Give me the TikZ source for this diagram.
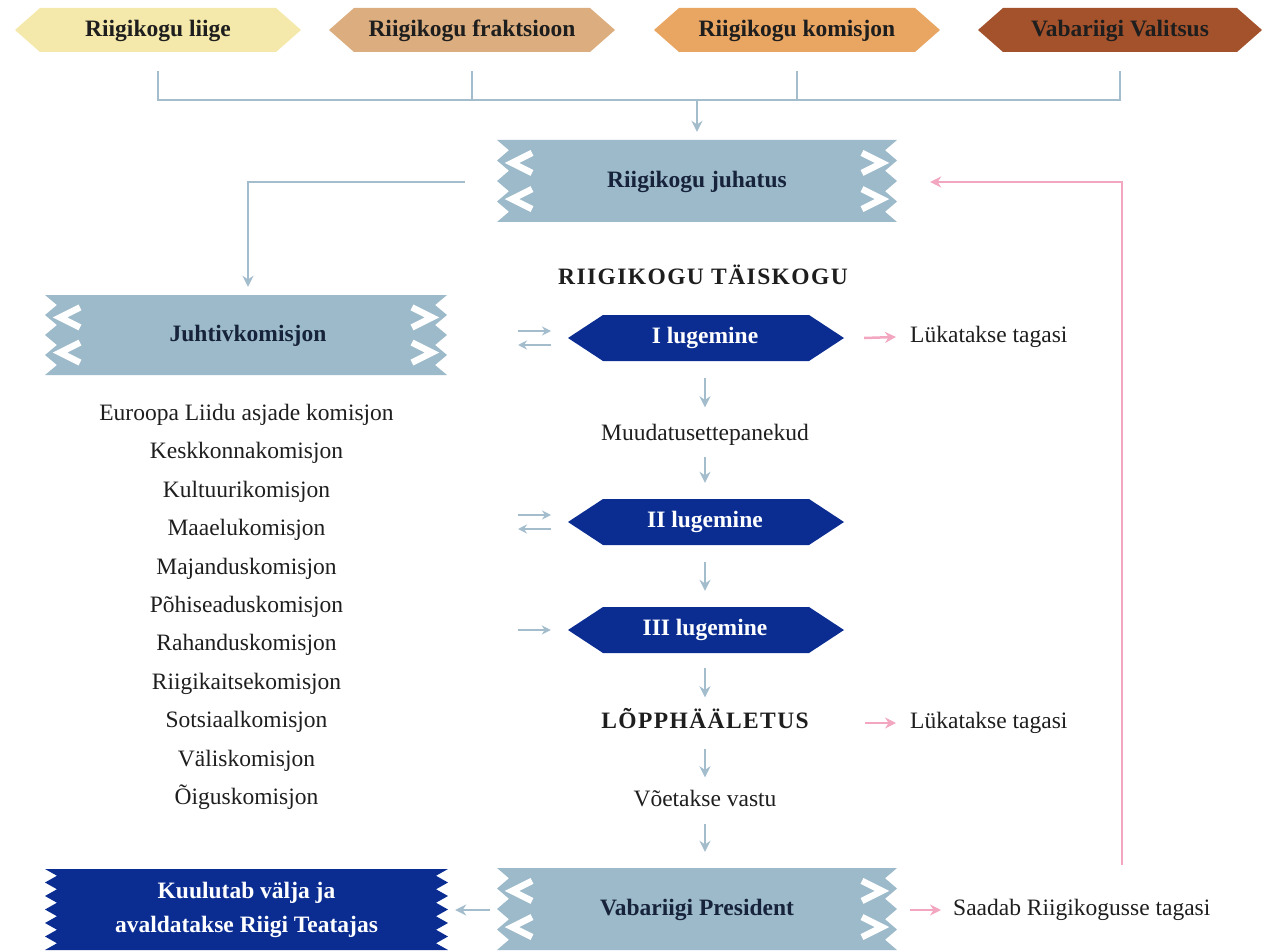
\documentclass[tikz,border=0pt]{standalone}
\usepackage{fontspec}
\setmainfont{Liberation Serif}
\usetikzlibrary{arrows.meta,calc}
\definecolor{cYel}{HTML}{F4E8AA}
\definecolor{cTan}{HTML}{DCAD7E}
\definecolor{cOra}{HTML}{E9A562}
\definecolor{cBrn}{HTML}{A4522B}
\definecolor{cBox}{HTML}{9DBACA}
\definecolor{cNavy}{HTML}{0B2D92}
\definecolor{cArr}{HTML}{A3BDCC}
\definecolor{cPink}{HTML}{F2A6BF}
\definecolor{cTxt}{HTML}{1E1E1E}
\definecolor{cBoxTxt}{HTML}{16233A}
\newcommand{\myfs}{\fontsize{23.5}{28}\selectfont}
% sawtooth ribbon: x0 y0 x1 y1 teeth depth fill
\newcommand{\Saw}[7]{%
  \fill[#7] (#1,#2) -- (#3,#2)
    \foreach \i in {1,...,#5} { -- ({#3-#6},{#2+(\i-0.5)*(#4-#2)/#5}) -- (#3,{#2+\i*(#4-#2)/#5}) }
    -- (#1,#4)
    \foreach \i in {#5,...,1} { -- ({#1+#6},{#2+(\i-0.5)*(#4-#2)/#5}) -- (#1,{#2+(\i-1)*(#4-#2)/#5}) }
    -- cycle;
}
% white chevrons on both ends: x0 y0 x1 y1
\newcommand{\Chevs}[4]{%
  \foreach \f in {0.28,0.72}{
    \draw[white, line width=6.5pt] ({#1+35},{#2+\f*(#4-#2)-10}) -- ({#1+15},{#2+\f*(#4-#2)}) -- ({#1+35},{#2+\f*(#4-#2)+10});
    \draw[white, line width=6.5pt] ({#3-35},{#2+\f*(#4-#2)-10}) -- ({#3-15},{#2+\f*(#4-#2)}) -- ({#3-35},{#2+\f*(#4-#2)+10});
  }
}
% hexagon: cx cy halfw halfh tip fill
\newcommand{\Hex}[6]{%
  \fill[#6] ({#1-#3},#2) -- ({#1-#3+#5},{#2-#4}) -- ({#1+#3-#5},{#2-#4}) -- ({#1+#3},#2) -- ({#1+#3-#5},{#2+#4}) -- ({#1-#3+#5},{#2+#4}) -- cycle;
}
\begin{document}
\begin{tikzpicture}[x=1pt,y=-1pt,
  txt/.style={font=\myfs, inner sep=0pt, text height=16pt, text depth=5pt, text=cTxt},
  btxt/.style={txt, font=\myfs\bfseries},
  sptxt/.style={btxt, font=\myfs\bfseries\addfontfeature{LetterSpace=6}},
  rd/.style={btxt, text=white, minimum height=46pt, minimum width=276pt},
  conn/.style={draw=cArr, line width=2.5pt},
  arr/.style={conn, -{Stealth[length=11pt,width=11pt]}},
  sarr/.style={draw=cArr, line width=2.3pt, -{Stealth[length=9pt,width=9pt]}},
  parr/.style={draw=cPink, line width=2.5pt, -{Stealth[length=11pt,width=11pt]}},
]
\useasboundingbox (0,0) rectangle (1269,952);

% ---- top hexagons
\Hex{158}{30}{143}{22}{25}{cYel}
\Hex{472}{30}{143}{22}{25}{cTan}
\Hex{797}{30}{143}{22}{25}{cOra}
\Hex{1120}{30}{142}{22}{25}{cBrn}
\node[btxt, minimum height=44pt] (h1) at (158,31) {Riigikogu liige};
\node[btxt, minimum height=44pt] (h2) at (472,31) {Riigikogu fraktsioon};
\node[btxt, minimum height=44pt] (h3) at (797,31) {Riigikogu komisjon};
\node[btxt, minimum height=44pt] (h4) at (1120,31) {Vabariigi Valitsus};

% ---- ribbons
\Saw{497}{140}{897}{222}{4}{12}{cBox}
\Chevs{497}{140}{897}{222}
\node[btxt, text=cBoxTxt, minimum width=400pt, minimum height=82pt] (juh) at (697,182) {Riigikogu juhatus};

\Saw{45}{295}{447}{375}{4}{12}{cBox}
\Chevs{45}{295}{447}{375}
\node[btxt, text=cBoxTxt, minimum width=402pt, minimum height=80pt] (jk) at (248,336) {Juhtivkomisjon};

\Saw{497}{868}{897}{950}{4}{12}{cBox}
\Chevs{497}{868}{897}{950}
\node[btxt, text=cBoxTxt, minimum width=400pt, minimum height=82pt] (pres) at (697,910) {Vabariigi President};

\Saw{45}{869}{448}{950}{6}{12}{cNavy}
\node[font=\fontsize{23.5}{34}\selectfont\bfseries, text=white, align=center, inner sep=0pt, minimum width=403pt, minimum height=81pt] (kuul) at (246.5,910) {Kuulutab välja ja\\avaldatakse Riigi Teatajas};

% ---- central column
\node[sptxt] (title) at (703,279) {RIIGIKOGU TÄISKOGU};
\Hex{706}{338}{138}{23}{35}{cNavy}
\node[rd] (l1) at (705,338) {I lugemine};
\node[txt] (mu) at (705,435) {Muudatusettepanekud};
\Hex{706}{522}{138}{23}{35}{cNavy}
\node[rd] (l2) at (705,522) {II lugemine};
\Hex{706}{630}{138}{23}{35}{cNavy}
\node[rd] (l3) at (705,630) {III lugemine};
\node[sptxt] (lop) at (705,723) {LÕPPHÄÄLETUS};
\node[txt] (vv) at (705,801) {Võetakse vastu};

\node[txt, anchor=west] (lt1) at (910,337) {Lükatakse tagasi};
\node[txt, anchor=west] (lt2) at (910,723) {Lükatakse tagasi};
\node[txt, anchor=west] (sr) at (953,910) {Saadab Riigikogusse tagasi};

% committee list
\foreach \t [count=\i] in {Euroopa Liidu asjade komisjon,Keskkonnakomisjon,Kultuurikomisjon,Maaelukomisjon,Majanduskomisjon,Põhiseaduskomisjon,Rahanduskomisjon,Riigikaitsekomisjon,Sotsiaalkomisjon,Väliskomisjon,Õiguskomisjon}
  \node[txt] (c\i) at (246.5,{415+(\i-1)*38.4}) {\t};

% ---- connectors top
\coordinate (m) at (697,100);
\draw[conn] ([yshift=-18pt]h1.south) |- (m);
\draw[conn] ([yshift=-18pt]h4.south) |- (m);
\draw[conn] ([yshift=-18pt]h2.south) -- (h2.south |- m);
\draw[conn] ([yshift=-18pt]h3.south) -- (h3.south |- m);
\draw[arr] (m) -- ([yshift=9pt]juh.north);
\draw[arr] ([xshift=-32pt]juh.west) -| ([yshift=9pt]jk.north);

% central down arrows
\draw[arr, shorten <=17pt, shorten >=17pt] (l1) -- (mu);
\draw[arr, shorten <=11pt, shorten >=16pt] (mu) -- (l2);
\draw[arr, shorten <=17pt, shorten >=16pt] (l2) -- (l3);
\draw[arr, shorten <=15pt, shorten >=15pt] (l3) -- (lop);
\draw[arr, shorten <=15pt, shorten >=13pt] (lop) -- (vv);
\draw[arr, shorten <=12pt, shorten >=17pt] (vv) -- (vv |- pres.north);

% side arrows by readings
\coordinate (a1l) at (518,331); \coordinate (a1r) at (551,331);
\coordinate (b1l) at (518,345); \coordinate (b1r) at (551,345);
\draw[sarr] (a1l) -- (a1r);
\draw[sarr] (b1r) -- (b1l);
\coordinate (a2l) at (518,515); \coordinate (a2r) at (551,515);
\coordinate (b2l) at (518,529); \coordinate (b2r) at (551,529);
\draw[sarr] (a2l) -- (a2r);
\draw[sarr] (b2r) -- (b2l);
\coordinate (a3l) at (518,630);
\draw[sarr, shorten >=16pt] (a3l) -- (l3.west);

% pink arrows
\draw[parr] ([xshift=21pt]l1.east) -- ([xshift=-14pt]lt1.west);
\draw[parr] ([xshift=-45pt]lt2.west) -- ([xshift=-14pt]lt2.west);
\draw[parr] ([xshift=13pt]pres.east) -- ([xshift=-12pt]sr.west);
\coordinate (fb) at (1122,865);
\draw[parr] (fb) |- ([xshift=33pt]juh.east);

% president -> kuulutab
\draw[arr, shorten <=7pt, shorten >=7pt] (pres) -- (kuul);
\end{tikzpicture}
\end{document}
